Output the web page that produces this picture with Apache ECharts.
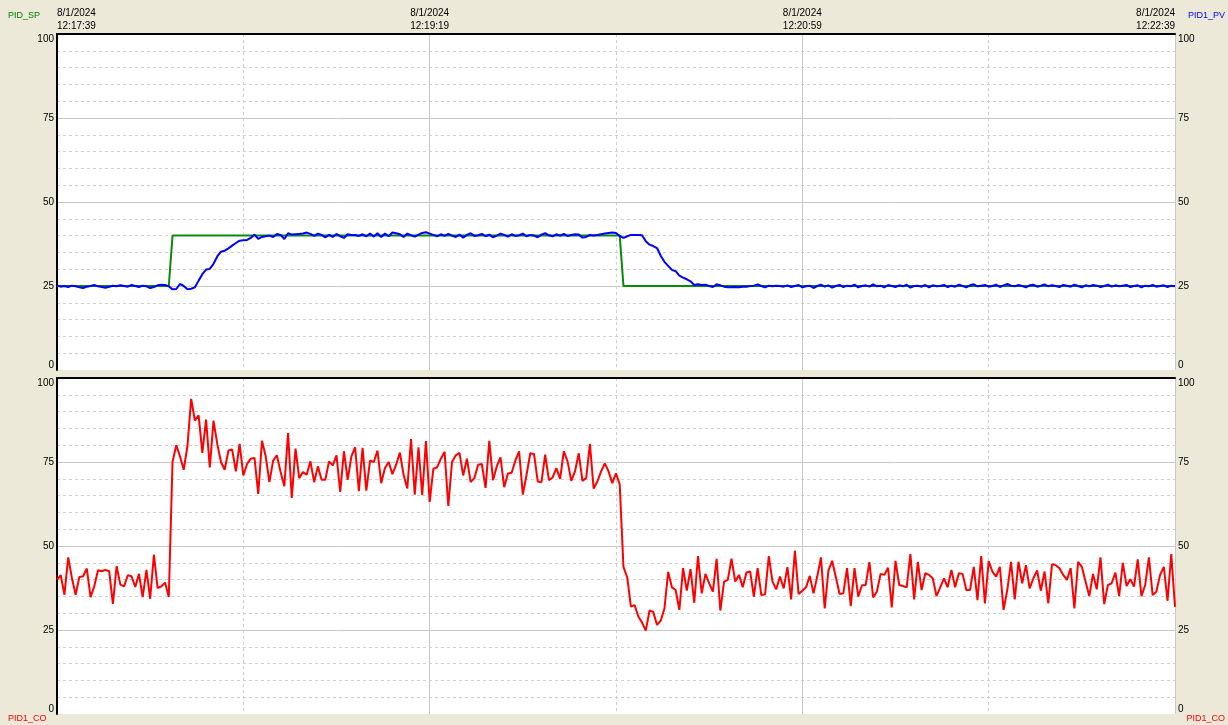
<!DOCTYPE html>
<html>
<head>
<meta charset="utf-8">
<script src="https://cdn.jsdelivr.net/npm/echarts@6/dist/echarts.min.js"></script>
<style>
  html, body { margin: 0; padding: 0; background: #ECE9D8; }
  #c { width: 1228px; height: 725px; }
</style>
</head>
<body>
<div id="c"></div>
<script>
// ---- Data (one sample per second, t = 0 .. 300 s) ----
const timeTickLabels = ['8/1/2024\n12:17:39', '8/1/2024\n12:19:19', '8/1/2024\n12:20:59', '8/1/2024\n12:22:39'];
const seriesNames = { sp: 'PID_SP', pv: 'PID1_PV', co: 'PID1_CO' };

// Set point: step changes (time in s, value)
const spTimes  = [0, 30, 31, 151, 152, 300];
const spValues = [25, 25, 40, 40, 25, 25];

// Process variable
const pvValues = [
  25.2, 24.8, 25.0, 24.7, 25.1, 24.9, 24.6, 24.4, 24.8, 25.0, 25.3, 24.9, 24.7, 24.5, 24.8, 25.1, 24.9, 25.2, 25.0, 24.8, 25.3, 25.0, 24.7, 25.1, 24.9,
  24.4, 24.7, 25.2, 25.4, 25.3, 24.9, 24.0, 24.1, 25.6, 25.0, 24.0, 24.2, 24.6, 26.6, 28.5, 29.9, 30.1, 31.6, 33.8, 35.2, 35.5, 36.2, 37.0, 37.8, 38.5, 38.6, 38.7, 39.3, 40.3, 39.0, 39.6, 39.8, 40.0, 39.6, 40.5, 40.2,
  39.0, 40.7, 40.3, 40.4, 40.5, 40.6, 40.9, 40.5, 39.9, 40.6, 40.2, 39.5, 40.2, 39.6, 40.5, 39.8, 39.3, 40.4, 40.2, 40.2, 39.9, 40.4, 39.8, 40.6, 39.7, 40.7, 39.6, 40.6, 39.8, 40.9, 40.7, 40.4, 39.6, 40.6,
  40.1, 39.7, 40.3, 40.8, 41.0, 40.6, 40.2, 39.8, 40.4, 39.9, 40.5, 40.0, 39.6, 40.3, 39.4, 40.2, 40.7, 39.9, 40.1, 40.5, 39.8, 40.3, 39.5, 40.0, 40.6, 40.2, 39.7, 40.4, 39.9, 40.1, 40.6, 39.8, 40.2, 40.0, 39.5, 40.3, 40.7, 40.1, 39.8, 40.4, 40.0, 40.5, 39.9, 40.2, 40.4,
  40.3, 39.4, 39.6, 40.2, 40.0, 40.2, 40.4, 40.6, 40.8, 40.9, 40.8, 39.9, 39.3, 39.8, 40.2, 40.2, 40.2, 40.1, 38.3, 37.3, 36.9, 36.3, 34.0, 32.2, 31.0, 29.8, 29.4, 28.1, 27.5, 27.0, 26.4, 25.3, 25.5, 25.3, 25.4, 25.0, 24.7, 25.5, 25.2, 24.8, 24.6, 24.6, 24.7, 24.6, 24.8, 24.8, 25.0, 25.1, 25.5, 25.0, 24.6, 25.1, 24.9, 25.1, 25.0, 24.8,
  25.2, 24.7, 25.0, 25.3, 24.6, 24.9, 25.1, 24.4, 25.0, 25.4, 24.8, 25.2, 24.5, 25.0, 25.3, 24.7, 25.1, 24.9, 25.4, 24.6, 25.0, 25.2, 24.8, 25.5, 24.9, 25.1, 24.6, 25.3, 25.0, 24.7,
  25.2, 24.9, 25.4, 24.5, 25.0, 25.1, 24.8, 25.3, 24.6, 25.2, 24.9, 25.0, 25.3, 24.7, 25.1, 24.8, 25.4, 25.0, 24.6, 25.2, 25.5, 24.9, 25.1, 25.3, 24.8, 25.0, 25.4, 24.7, 25.2, 25.6,
  25.1, 24.9, 25.3, 25.0, 24.6, 25.2, 25.4, 24.8, 25.1, 25.5, 24.9, 25.2, 25.0, 24.7, 25.3, 25.1, 24.8, 25.4, 25.0, 24.6, 25.2, 24.9, 25.3, 25.1, 24.7, 25.0, 25.4, 24.8, 25.2, 24.9,
  25.1, 25.3, 24.7, 25.0, 25.2, 24.6, 25.1, 24.9, 25.3, 24.8, 25.0, 25.2, 24.7, 25.1, 24.9
];

// Controller output
const coValues = [
  40, 41.3, 35.5, 46.6, 40.5, 35.5, 40.8, 41, 43.3, 34.8, 38, 42.8, 42.5, 42.9, 42.5, 32.8, 44, 38.5, 38, 41.3, 41, 37.8, 41.7, 34.8, 42.9, 34.3, 47.4, 37.5, 38, 39.1, 34.8,
  75, 80, 76.7, 72.7, 79.7, 93.8, 87.3, 88.9, 77.7, 87.6, 73.4, 87.3, 80.4, 75, 72.7, 78.4, 78.7, 72.2, 80.4, 71, 74.4, 76, 76.2, 65.5, 81.3, 76.7, 69, 75.4, 77, 72, 67.8, 83.6, 64.3, 79, 70.2, 72, 71.2, 75.2, 69, 73.7, 69.7, 69.7, 75.2, 74, 77, 66.1, 78.2,
  69.7, 76.7, 79.4, 66.3, 79.2, 66.5, 75.4, 75, 78.4, 68.7, 73.2, 75, 71.4, 74.2, 77.8, 71.2, 67.1, 81.8, 65.3, 79.4, 65.1, 81.2, 63.1, 73, 73.4, 76, 78, 61.9, 75, 77, 77.7, 71, 76, 69, 70.2, 74.2, 74.4, 67.3, 81.3, 69.6, 73.7, 76.4, 67.5, 71.6, 71.8, 75.4, 78.2, 65.3, 71.2, 77.6, 77.4, 69.2, 69, 77.2, 69.6, 70.4, 73.2, 70, 78.2, 75.2, 69.4, 72.2, 77.6, 69.4, 70.2, 80.4, 67.1, 69.2, 72.2, 74.6, 72.2, 68.7, 71.6, 68.3,
  43.8, 40.7, 32, 32.4, 29, 27.2, 24.8, 30.8, 30.4, 26.5, 27.8, 31.4, 42.3, 37.7, 36.9, 31, 43.4, 36.7, 43.1, 33.1, 47, 35.9, 41.7, 38.9, 36.4, 46.2, 30.8, 39.4, 39.9, 46.2, 39.4, 41.4, 37.7, 42.1, 42.4, 34.9, 43.4, 35.4, 35.6, 47, 39.4, 37.1, 40.9, 37.4, 43.7, 34.1, 48.6, 35.7, 36.7, 37.7, 41.1, 35.9, 40.9, 46.6, 31.4, 42.7, 45.6, 40.7, 35.7, 35.9, 43.4, 32.1, 43.4, 34.9, 38.3, 38.4, 45.2, 34.7, 36.4, 41.7, 41.4, 43.5, 31.7, 45.6, 38.4,
  38.1, 37.7, 47.6, 34.1, 45.3, 36.9, 41.9, 41.4, 40.4, 35.1, 37.7, 40.4, 37.7, 42.9, 37.7, 41.9, 41.7, 36.9, 36.9, 43.8, 33.9, 47, 32.9, 45.5, 42.4, 40.9, 43.8, 31, 36.9, 45.3, 34.1, 45.3, 38.9, 44.3, 37.4, 40.4, 42.7, 36.7, 42.4, 32.9, 44.6, 44.3, 43.4, 41.4, 39.9, 43.4, 31.4, 45.3, 43.8, 39.4, 35.1, 41.7, 37.1, 46.6, 32.7, 38.4, 38.9, 42.1, 35.1, 45, 38.1, 40.1, 37.9, 46, 35.1, 38.4, 46.6, 35.4, 36.4, 41.4, 43.8, 33.7, 47.6, 31.9
];

// ---- Build chart ----
const FONT = '"Liberation Sans", Arial, sans-serif';
const toPairs = (vals) => vals.map((v, i) => [i, v]);
const spData = spTimes.map((t, i) => [t, spValues[i]]);

function xAxisCfg(gridIndex, showLabels) {
  return {
    gridIndex, type: 'value', min: 0, max: 300, interval: 100, position: 'top',
    axisLine: { show: true, onZero: false, lineStyle: { color: '#000', width: 2 } },
    axisTick: { show: false },
    axisLabel: {
      show: showLabels, color: '#000', fontSize: 10, fontFamily: FONT, lineHeight: 13, margin: 1,
      alignMinLabel: 'left', alignMaxLabel: 'right',
      formatter: (v) => timeTickLabels[Math.round(v / 100)]
    },
    splitLine: { show: true, lineStyle: { color: '#c8c8c8', width: 1 } },
    minorTick: { show: false, splitNumber: 2 },
    minorSplitLine: { show: true, lineStyle: { color: '#cfcfcf', width: 1, type: [3, 3] } }
  };
}
function yAxisCfg(gridIndex, side) {
  const left = side === 'left';
  return {
    gridIndex, type: 'value', min: 0, max: 100, interval: 25, position: side,
    axisLine: { show: left, onZero: false, lineStyle: { color: '#000', width: 2 } },
    axisTick: { show: false },
    axisLabel: {
      color: '#000', fontSize: 10, fontFamily: FONT, margin: 3,
      verticalAlignMinLabel: 'bottom', verticalAlignMaxLabel: 'top'
    },
    splitLine: { show: left, showMinLine: false, lineStyle: { color: '#c8c8c8', width: 1 } },
    minorTick: { show: false, splitNumber: 5 },
    minorSplitLine: { show: left, lineStyle: { color: '#cfcfcf', width: 1, type: [3, 3] } }
  };
}
const nameStyle = (color) => ({ color, fontSize: 9, fontWeight: 'normal', fontFamily: FONT });

const chart = echarts.init(document.getElementById('c'));
chart.setOption({
  animation: false,
  backgroundColor: '#ECE9D8',
  textStyle: { fontFamily: FONT },
  title: [
    { text: seriesNames.sp, left: 8, top: 11, padding: 0, textStyle: nameStyle('#008000') },
    { text: seriesNames.pv, right: 3, top: 11, padding: 0, textStyle: nameStyle('#0000ff') },
    { text: seriesNames.co, left: 8, top: 714, padding: 0, textStyle: nameStyle('#ff0000') },
    { text: seriesNames.co, right: 3, top: 714, padding: 0, textStyle: nameStyle('#ff0000') }
  ],
  grid: [
    { left: 57, top: 34, width: 1118, height: 336, show: true, backgroundColor: '#ffffff', borderWidth: 0 },
    { left: 57, top: 378, width: 1118, height: 336, show: true, backgroundColor: '#ffffff', borderWidth: 0 }
  ],
  xAxis: [xAxisCfg(0, true), xAxisCfg(1, false)],
  yAxis: [yAxisCfg(0, 'left'), yAxisCfg(0, 'right'), yAxisCfg(1, 'left'), yAxisCfg(1, 'right')],
  series: [
    { name: seriesNames.sp, type: 'line', xAxisIndex: 0, yAxisIndex: 0, data: spData, showSymbol: false,
      lineStyle: { color: '#0a8a0a', width: 2 }, itemStyle: { color: '#0a8a0a' } },
    { name: seriesNames.pv, type: 'line', xAxisIndex: 0, yAxisIndex: 0, data: toPairs(pvValues), showSymbol: false,
      lineStyle: { color: '#0000ff', width: 2 }, itemStyle: { color: '#0000ff' } },
    { name: seriesNames.co, type: 'line', xAxisIndex: 1, yAxisIndex: 2, data: toPairs(coValues), showSymbol: false,
      lineStyle: { color: '#ff0000', width: 2 }, itemStyle: { color: '#ff0000' } }
  ]
});
</script>
</body>
</html>
